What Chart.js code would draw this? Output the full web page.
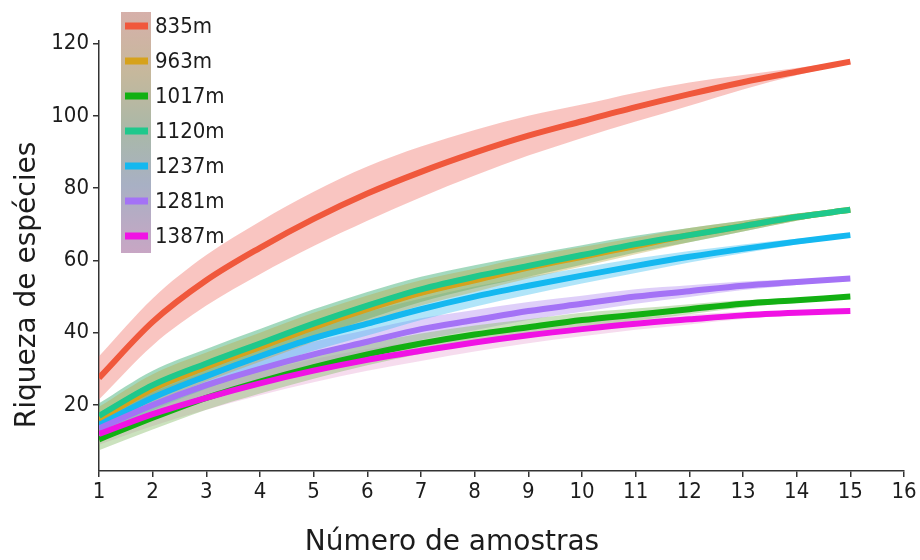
<!DOCTYPE html>
<html>
<head>
<meta charset="utf-8">
<script src="https://cdn.jsdelivr.net/npm/chart.js@4.4.1/dist/chart.umd.min.js"></script>
<style>
  html, body { margin: 0; padding: 0; background: #fff; }
  canvas { display: block; }
</style>
</head>
<body>
<canvas id="chart" width="920" height="560"></canvas>
<script>
'use strict';

/* ---- Data ---- */
const samples = [1, 2, 3, 4, 5, 6, 7, 8, 9, 10, 11, 12, 13, 14, 15];
const xTicks  = [1, 2, 3, 4, 5, 6, 7, 8, 9, 10, 11, 12, 13, 14, 15, 16];
const yTicks  = [20, 40, 60, 80, 100, 120];

const altitudes = ['835m', '963m', '1017m', '1120m', '1237m', '1281m', '1387m'];

// mean species richness per sample count
const rich835  = [27.5, 43, 54.5, 63.5, 71.5, 78.5, 84.5, 89.8, 94.5, 98.5, 102.4, 106, 109.3, 112.2, 115];
const rich963  = [16, 24.5, 30.5, 36, 41.5, 46.5, 51, 54.5, 58, 61, 64, 67, 69.5, 72, 74];
const rich1017 = [10.5, 16.5, 22, 26.5, 30.5, 34, 37, 39.5, 41.5, 43.5, 45, 46.5, 48, 49, 50];
const rich1120 = [17, 25.5, 31.5, 37, 42.5, 47.5, 52, 55.5, 58.5, 61.5, 64.5, 67, 69.5, 72, 74];
const rich1237 = [14.5, 22, 28, 33.5, 38.5, 42.5, 46.5, 50, 53, 55.8, 58.5, 61, 63.2, 65.2, 67];
const rich1281 = [13.5, 20, 25.5, 30, 34, 37.5, 41, 43.5, 46, 48, 50, 51.5, 53, 54, 55];
const rich1387 = [12, 17.5, 22, 26, 29.5, 32.5, 35, 37.3, 39.3, 41, 42.5, 43.7, 44.8, 45.5, 46];

// half-width of the confidence band around each curve
const band835  = [6, 6.5, 7, 7.3, 7.5, 7.5, 7, 6.3, 5.5, 4.6, 4, 3.2, 2, 1, 0.3];
const bandWide = [3.5, 4, 4, 4, 4, 3.8, 3.5, 3.2, 3, 2.7, 2.3, 2, 1.5, 1, 0.4];
const bandMid  = [3, 3.5, 3.5, 3.5, 3.5, 3.3, 3, 2.8, 2.5, 2.2, 2, 1.6, 1.2, 0.8, 0.3];
const bandNarr = [3, 3.3, 3.3, 3.3, 3.2, 3, 2.8, 2.5, 2.2, 2, 1.7, 1.4, 1, 0.6, 0.3];

const series = [
  { label: altitudes[0], mean: rich835,  band: band835,  line: '#f0583c', fill: 'rgba(240,110,100,0.40)' },
  { label: altitudes[1], mean: rich963,  band: bandWide, line: '#d6a21c', fill: 'rgba(190,170,70,0.40)' },
  { label: altitudes[2], mean: rich1017, band: bandNarr, line: '#12b012', fill: 'rgba(140,190,110,0.45)' },
  { label: altitudes[3], mean: rich1120, band: bandWide, line: '#1fc88c', fill: 'rgba(50,170,110,0.45)' },
  { label: altitudes[4], mean: rich1237, band: bandMid,  line: '#14b8f0', fill: 'rgba(60,190,240,0.40)' },
  { label: altitudes[5], mean: rich1281, band: bandMid,  line: '#a472f6', fill: 'rgba(175,135,240,0.40)' },
  { label: altitudes[6], mean: rich1387, band: bandNarr, line: '#f012e4', fill: 'rgba(225,140,200,0.30)' },
];

/* ---- Build datasets: band (lower + upper) then the curve ---- */
const datasets = [];
series.forEach(s => {
  datasets.push({
    data: samples.map((x, k) => ({ x, y: s.mean[k] - s.band[k] })),
    borderColor: 'transparent', borderWidth: 0, fill: false, order: 20,
  });
  datasets.push({
    data: samples.map((x, k) => ({ x, y: s.mean[k] + s.band[k] })),
    borderColor: 'transparent', borderWidth: 0, backgroundColor: s.fill, fill: '-1', order: 20,
  });
});
series.forEach((s, i) => {
  datasets.push({
    label: s.label,
    data: samples.map((x, k) => ({ x, y: s.mean[k] })),
    borderColor: s.line, borderWidth: 6, fill: false, order: series.length - i,
  });
});

/* ---- Axis titles + legend strip, drawn on canvas ---- */
const TEXT = '#1c1c1c';
const TICK_FONT = '"Liberation Sans Narrow", "DejaVu Sans Condensed", "Liberation Sans", sans-serif';

const decorPlugin = {
  id: 'decor',
  afterDraw(chart) {
    const ctx = chart.ctx;
    ctx.save();

    // axis titles
    ctx.fillStyle = TEXT;
    ctx.font = '28px "DejaVu Sans", sans-serif';
    ctx.textAlign = 'center';
    ctx.textBaseline = 'middle';
    ctx.fillText('Número de amostras', 452, 543);
    ctx.translate(28, 285);
    ctx.rotate(-Math.PI / 2);
    ctx.fillText('Riqueza de espécies', 0, 0);
    ctx.setTransform(1, 0, 0, 1, 0, 0);

    // legend strip
    const g = ctx.createLinearGradient(0, 12, 0, 253);
    g.addColorStop(0, '#d6b0aa');
    g.addColorStop(0.25, '#c6b89c');
    g.addColorStop(0.5, '#a9b8a8');
    g.addColorStop(0.72, '#a8b0c4');
    g.addColorStop(1, '#c8a6c4');
    ctx.fillStyle = g;
    ctx.fillRect(121, 12, 30, 241);

    ctx.font = '22px ' + TICK_FONT;
    ctx.textAlign = 'left';
    series.forEach((s, i) => {
      const y = 26 + i * 35;
      ctx.fillStyle = s.line;
      ctx.fillRect(125, y - 3.5, 23, 7);
      ctx.fillStyle = TEXT;
      ctx.fillText(s.label, 155, y + 1);
    });
    ctx.restore();
  },
};

const axisGrid = { display: true, drawOnChartArea: false, drawTicks: true, tickLength: 6, color: '#333', lineWidth: 1.5 };
const axisBorder = { display: true, color: '#333', width: 1.5 };

new Chart(document.getElementById('chart'), {
  type: 'line',
  data: { datasets },
  options: {
    responsive: false,
    animation: false,
    layout: { padding: { left: 0, right: 16, top: 41, bottom: 0 } },
    plugins: { legend: { display: false }, tooltip: { enabled: false } },
    elements: {
      point: { radius: 0 },
      line: { cubicInterpolationMode: 'monotone', borderCapStyle: 'butt' },
    },
    scales: {
      x: {
        type: 'linear', min: 1, max: 16,
        afterBuildTicks: s => { s.ticks = xTicks.map(v => ({ value: v })); },
        afterFit: s => { s.height = 89; },
        grid: axisGrid, border: axisBorder,
        ticks: { autoSkip: false, maxRotation: 0, padding: 2, color: TEXT, font: { family: TICK_FONT, size: 22 } },
      },
      y: {
        type: 'linear', min: 1.75, max: 120.7,
        afterBuildTicks: s => { s.ticks = yTicks.map(v => ({ value: v })); },
        afterFit: s => { s.width = 99; },
        grid: axisGrid, border: axisBorder,
        ticks: { padding: 4, color: TEXT, font: { family: TICK_FONT, size: 22 } },
      },
    },
  },
  plugins: [decorPlugin],
});
</script>
</body>
</html>
